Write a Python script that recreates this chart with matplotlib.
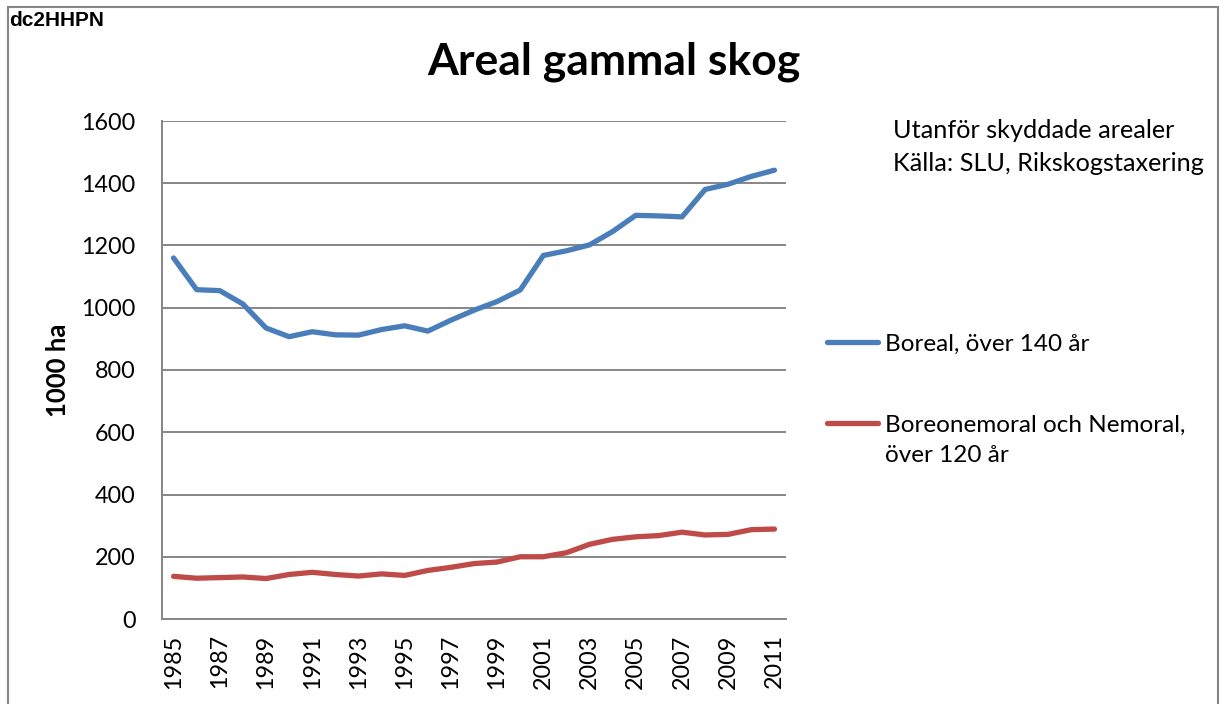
import matplotlib
matplotlib.use('Agg')
import matplotlib.pyplot as plt
from matplotlib.patches import Rectangle
from matplotlib.transforms import Bbox, TransformedBbox

# data
years = list(range(1985, 2012))
boreal = [1160, 1058, 1055, 1012, 935, 907, 923, 913, 912, 930, 942, 925, 960, 992,
          1020, 1057, 1168, 1183, 1202, 1245, 1297, 1295, 1292, 1380, 1397, 1422, 1442]
nemoral = [137, 131, 133, 135, 130, 143, 150, 143, 138, 145, 140, 156, 166, 178,
           183, 200, 200, 213, 240, 256, 264, 268, 279, 270, 272, 287, 289]
y_ticks = [0, 200, 400, 600, 800, 1000, 1200, 1400, 1600]

plt.rcParams['font.family'] = ['Lato', 'DejaVu Sans']
gray = '#868686'
W, H = 1230, 704

fig = plt.figure(figsize=(12.3, 7.04), dpi=100)
ax = fig.add_axes([162 / W, 1 - 619 / H, (786 - 162) / W, (619 - 121) / H])

x = list(range(len(years)))
ax.plot(x, boreal, color='#4A7EBB', lw=3.8, solid_capstyle='round',
        label='Boreal, över 140 år')
ax.plot(x, nemoral, color='#BE4B48', lw=3.8, solid_capstyle='round',
        label='Boreonemoral och Nemoral,')

ax.set_xlim(-0.5, len(years) - 0.5)
ax.set_ylim(0, 1600)
ax.set_yticks(y_ticks)
ax.set_xticks(x[::2])
ax.set_xticklabels([str(y) for y in years[::2]], rotation=90)
ax.tick_params(axis='both', length=0, labelsize=16.8)
ax.tick_params(axis='x', pad=11)
ax.tick_params(axis='y', pad=19)
ax.grid(axis='y', color=gray, lw=1.4)
ax.set_axisbelow(True)
for s in ['top', 'right']:
    ax.spines[s].set_visible(False)
for s in ['left', 'bottom']:
    ax.spines[s].set_color(gray)
    ax.spines[s].set_linewidth(1.4)

ax.set_ylabel('1000 ha', fontsize=18.5, fontweight='bold')
ax.yaxis.set_label_coords((70 - 162) / 624, 0.5)

fig.text(614 / W, 1 - 62 / H, 'Areal gammal skog', fontsize=32, fontweight='bold',
         ha='center', va='center')
fig.text(9 / W, 1 - 21 / H, 'dc2HHPN', fontsize=15, fontweight='bold',
         family='Liberation Sans', va='center')

leg = ax.legend(loc='upper left', bbox_to_anchor=(805 / W, 1 - 312 / H),
                bbox_transform=fig.transFigure, frameon=False, fontsize=17.5,
                handlelength=2.1, handletextpad=0.3, labelspacing=2.45)
# second line of the red label sits under the first, as in the original
fig.text(885 / W, 1 - 455 / H, 'över 120 år', fontsize=17.5, va='center')

# outer chart border
clip = TransformedBbox(Bbox([[8 / W, -0.1], [1218 / W, 1 - 7 / H]]), fig.transFigure)
fig.add_artist(Rectangle((8 / W, -0.1), (1218 - 8) / W, 1.1 - 7 / H,
                         transform=fig.transFigure, fill=False,
                         edgecolor=gray, lw=1.5))
note = fig.text(893 / W, 1 - 147 / H,
                'Utanför skyddade arealer\nKälla: SLU, Rikskogstaxering',
                fontsize=18.2, va='center', linespacing=1.5)
note.set_clip_box(clip)
note.set_clip_on(True)

fig.savefig('out.png', dpi=100)
